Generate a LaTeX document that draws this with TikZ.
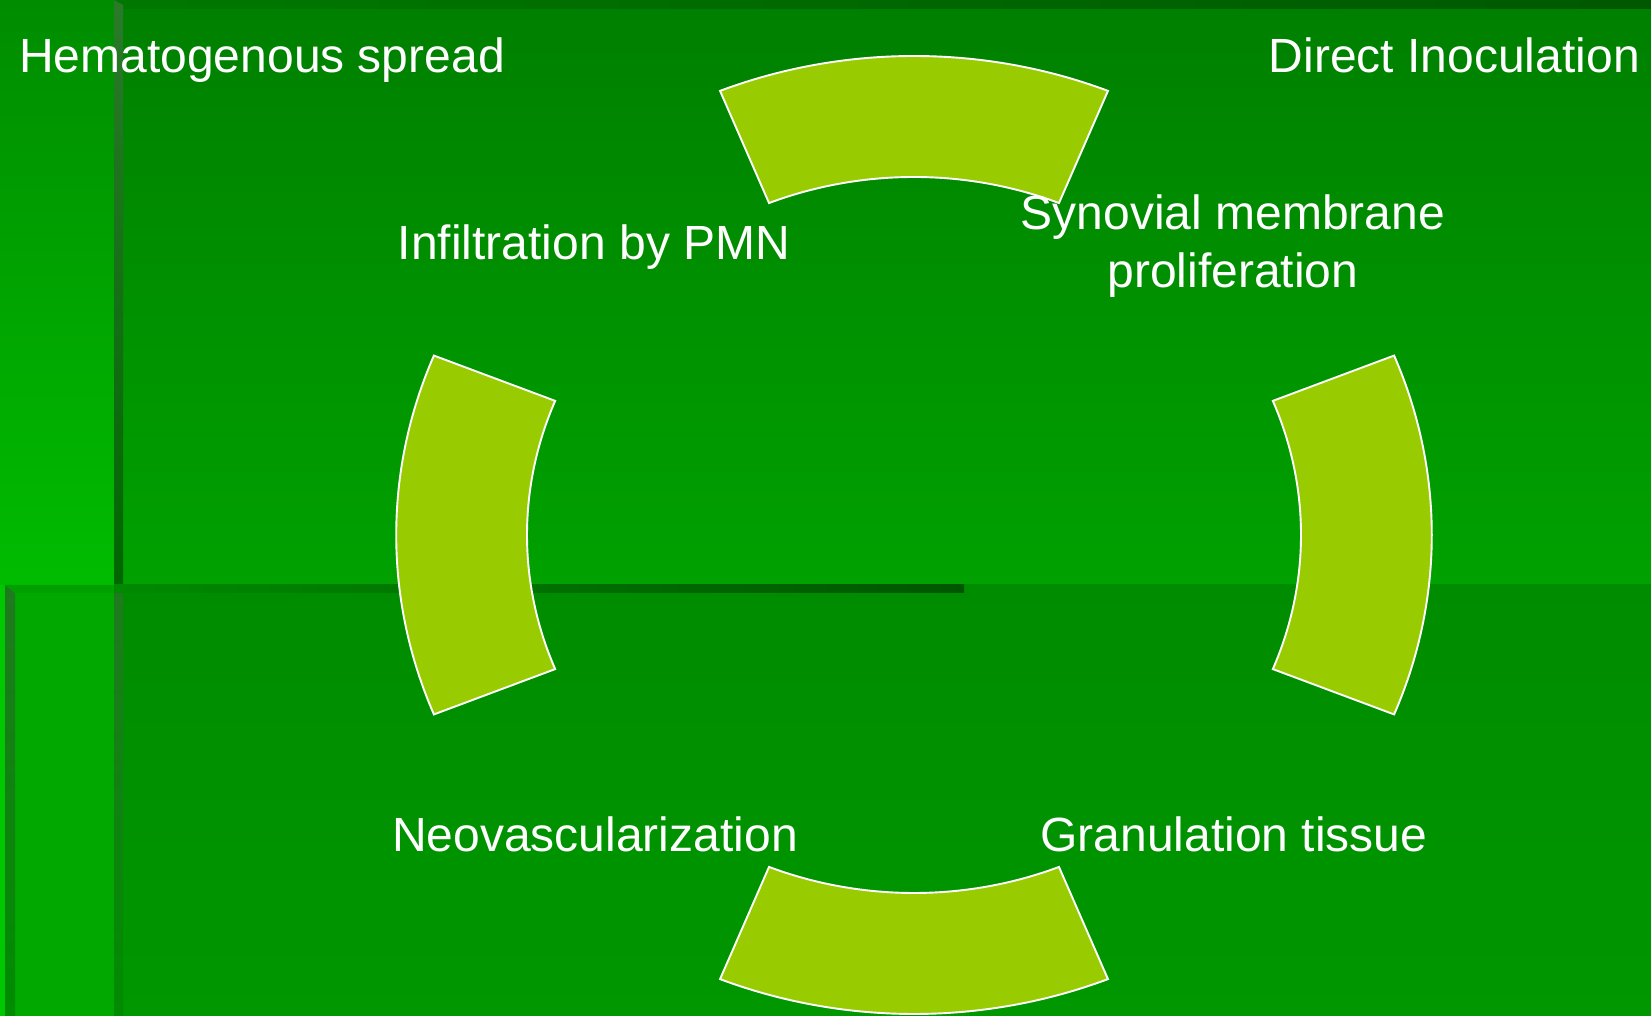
\documentclass[tikz,border=0pt]{standalone}
\usepackage{fontspec}
\setmainfont{Liberation Sans}
% panel and segment colours
\definecolor{segfill}{RGB}{153,204,0}
\definecolor{mainTop}{RGB}{0,128,0}
\definecolor{mainBot}{RGB}{0,161,0}
\definecolor{lowTop}{RGB}{0,140,0}
\definecolor{lowBot}{RGB}{0,151,0}
\definecolor{sideTop}{RGB}{0,140,0}
\definecolor{sideBot}{RGB}{0,188,0}
\definecolor{sideLow}{RGB}{0,168,0}
\definecolor{sideEdge}{RGB}{0,200,0}
\definecolor{sideLip}{RGB}{0,160,0}
\definecolor{ruleA}{RGB}{42,122,42}
\definecolor{ruleB}{RGB}{0,102,0}
\definecolor{ruleC}{RGB}{31,122,31}
\definecolor{ruleD}{RGB}{0,140,0}
\definecolor{barL}{RGB}{0,138,0}
\definecolor{barR}{RGB}{0,86,0}
\definecolor{stripL}{RGB}{0,120,0}
\definecolor{stripR}{RGB}{0,88,0}
\begin{document}
\begin{tikzpicture}[x=1pt,y=1pt,
  segment/.style={fill=segfill, draw=white, line width=1.9pt, line join=miter},
  caption/.style={text=white, font=\fontsize{48}{50}\selectfont, inner sep=0pt, anchor=base}]
  \useasboundingbox (0,0) rectangle (1651,1016);

  % background panels
  \shade[top color=mainTop, bottom color=mainBot] (123,431) rectangle (1651,1007);
  \shade[left color=stripL, right color=stripR] (114,1007) rectangle (1651,1016);
  \shade[top color=lowTop, bottom color=lowBot] (123,0) rectangle (1651,431);
  \shade[top color=sideTop, bottom color=sideBot] (0,431) rectangle (114,1016);
  \fill[sideLow] (0,0) rectangle (114,431);
  \fill[sideEdge] (0,0) rectangle (5,431);
  \shade[top color=ruleC, bottom color=ruleD] (5,0) -- (5,431) -- (15,423) -- (15,0) -- cycle;
  \fill[sideLip] (15,423) -- (5,431) -- (114,431) -- (114,423) -- cycle;

  % dividing rules
  \shade[top color=ruleA, bottom color=ruleB] (114,431) -- (114,1016) -- (123,1011) -- (123,431) -- cycle;
  \shade[top color=ruleC, bottom color=ruleD] (114,0) rectangle (123,431);
  \shade[left color=barL, right color=barR] (114,423) rectangle (964,431);

  % ring of four segments
  \begin{scope}[shift={(914,481)}, xscale=1.081]
    \foreach \a in {0,90,180,270}
      \draw[segment] ({\a+22}:479) arc[start angle=\a+22, end angle=\a-22, radius=479]
        -- ({\a-22}:358) arc[start angle=\a-22, end angle=\a+22, radius=358] -- cycle;
  \end{scope}

  % labels
  \node[caption, anchor=base west] (hema) at (19,943) {Hematogenous spread};
  \node[caption, anchor=base east] (direct) at (1640,943) {Direct Inoculation};
  \node[caption] (pmn) at (594,756.5) {Infiltration by PMN};
  \node[caption] (syn1) at (1233,786.5) {Synovial membrane};
  \node[caption] (syn2) at (1233,728.5) {proliferation};
  \node[caption] (neo) at (595,164) {Neovascularization};
  \node[caption] (gran) at (1234,164.5) {Granulation tissue};
\end{tikzpicture}
\end{document}
